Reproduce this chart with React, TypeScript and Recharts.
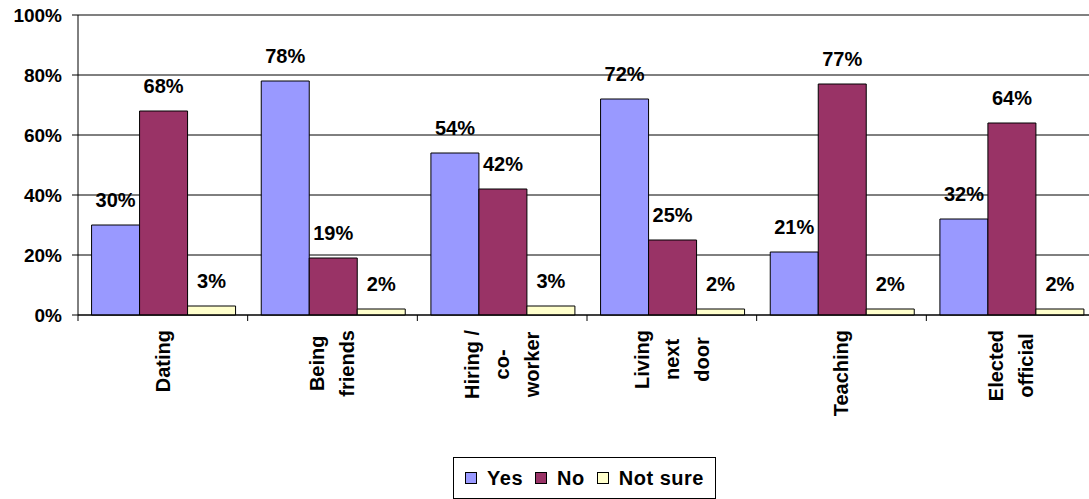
import React from 'react';
import {
  BarChart,
  Bar,
  XAxis,
  YAxis,
  CartesianGrid,
  ReferenceLine,
  LabelList,
} from 'recharts';

const categories = [
  'Dating',
  'Being\nfriends',
  'Hiring /\nco-\nworker',
  'Living\nnext\ndoor',
  'Teaching',
  'Elected\nofficial',
];
const yesValues = [30, 78, 54, 72, 21, 32];
const noValues = [68, 19, 42, 25, 77, 64];
const notSureValues = [3, 2, 3, 2, 2, 2];
const yTicks = [0, 20, 40, 60, 80, 100];

const seriesNames = { yes: 'Yes', no: 'No', notSure: 'Not sure' };
const colors = { yes: '#9999FF', no: '#993366', notSure: '#FFFFCC' };

const FONT = '"Liberation Sans", Arial, sans-serif';
const CHART_W = 1110;
const CHART_H = 499;
const MARGIN = { top: 15, right: 14, left: 0, bottom: 44 };
const Y_AXIS_W = 78;
const X_AXIS_H = 140;

const data = categories.map((name, i) => ({
  name,
  yes: yesValues[i],
  no: noValues[i],
  notSure: notSureValues[i],
}));

let ctx: CanvasRenderingContext2D | null = null;
function measure(text: string, font: string) {
  if (!ctx) ctx = document.createElement('canvas').getContext('2d');
  if (!ctx) return text.length * 10;
  ctx.font = font;
  return ctx.measureText(text).width;
}

const bandWidth =
  (CHART_W - MARGIN.left - MARGIN.right - Y_AXIS_W) / categories.length;

function CategoryTick(props: any) {
  const { x, y, payload } = props;
  const lines = String(payload.value).split('\n');
  const fontSize = 20;
  const lineH = 30;
  const maxLen = Math.max(
    ...lines.map((l) => measure(l, `bold ${fontSize}px ${FONT}`))
  );
  const cy = y + 15 + maxLen / 2;
  const left = x - bandWidth / 2;
  return (
    <g>
      <line x1={left} y1={y} x2={left} y2={y + 6} stroke="#000" />
      {lines.map((l, i) => {
        const cx = x + (i - (lines.length - 1) / 2) * lineH;
        return (
          <text
            key={i}
            x={cx}
            y={cy}
            transform={`rotate(-90, ${cx}, ${cy})`}
            textAnchor="middle"
            dominantBaseline="central"
            fontFamily={FONT}
            fontWeight="bold"
            fontSize={fontSize}
            fill="#000"
          >
            {l}
          </text>
        );
      })}
    </g>
  );
}

const labelStyle = {
  fill: '#000',
  fontSize: 20,
  fontWeight: 'bold' as const,
  fontFamily: FONT,
};

function LegendBox() {
  const items = [
    { name: seriesNames.yes, color: colors.yes },
    { name: seriesNames.no, color: colors.no },
    { name: seriesNames.notSure, color: colors.notSure },
  ];
  return (
    <div
      style={{
        position: 'absolute',
        left: 453,
        top: 457,
        width: 261,
        height: 40,
        border: '1px solid #000',
        background: '#fff',
        display: 'flex',
        alignItems: 'center',
        justifyContent: 'center',
        gap: 12,
        fontFamily: FONT,
        fontWeight: 'bold',
        fontSize: 20,
      }}
    >
      {items.map((it) => (
        <div key={it.name} style={{ display: 'flex', alignItems: 'center', gap: 10 }}>
          <div
            style={{
              width: 10,
              height: 10,
              background: it.color,
              border: '1px solid #000',
            }}
          />
          <span style={{ letterSpacing: 0.5 }}>{it.name}</span>
        </div>
      ))}
    </div>
  );
}

export default function App() {
  return (
    <div
      style={{
        position: 'fixed',
        left: 0,
        top: 0,
        width: 1089,
        height: 499,
        overflow: 'hidden',
        background: '#fff',
      }}
    >
      <BarChart
        width={CHART_W}
        height={CHART_H}
        data={data}
        margin={MARGIN}
        barCategoryGap="8%"
        barGap={0}
      >
        <CartesianGrid vertical={false} stroke="#000" />
        <XAxis
          dataKey="name"
          interval={0}
          height={X_AXIS_H}
          tickSize={0}
          tickMargin={0}
          tickLine={false}
          axisLine={{ stroke: '#000' }}
          tick={<CategoryTick />}
        />
        <YAxis
          width={Y_AXIS_W}
          domain={[0, 100]}
          ticks={yTicks}
          tickFormatter={(v) => `${v}%`}
          tickSize={6}
          tickMargin={10}
          axisLine={{ stroke: '#000' }}
          tickLine={{ stroke: '#000' }}
          tick={{ ...labelStyle, fontSize: 19 }}
        />
        <ReferenceLine y={100} stroke="#808080" strokeWidth={2} />
        <Bar
          dataKey="yes"
          name={seriesNames.yes}
          fill={colors.yes}
          stroke="#000"
          strokeWidth={1}
          isAnimationActive={false}
        >
          <LabelList dataKey="yes" position="top" offset={18} formatter={(v: any) => `${v}%`} style={labelStyle} />
        </Bar>
        <Bar
          dataKey="no"
          name={seriesNames.no}
          fill={colors.no}
          stroke="#000"
          strokeWidth={1}
          isAnimationActive={false}
        >
          <LabelList dataKey="no" position="top" offset={18} formatter={(v: any) => `${v}%`} style={labelStyle} />
        </Bar>
        <Bar
          dataKey="notSure"
          name={seriesNames.notSure}
          fill={colors.notSure}
          stroke="#000"
          strokeWidth={1}
          isAnimationActive={false}
        >
          <LabelList dataKey="notSure" position="top" offset={18} formatter={(v: any) => `${v}%`} style={labelStyle} />
        </Bar>
      </BarChart>
      <LegendBox />
    </div>
  );
}
